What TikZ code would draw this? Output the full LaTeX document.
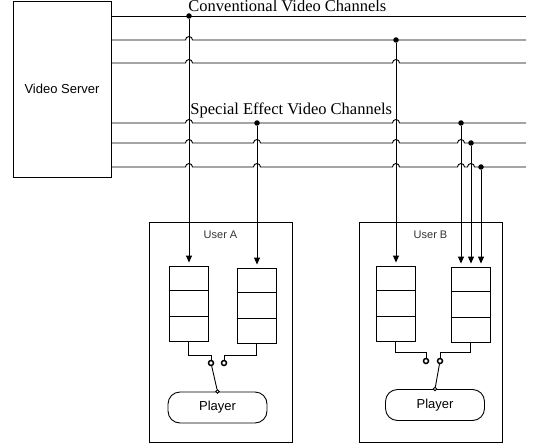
\documentclass[tikz,border=0pt]{standalone}
\usepackage{fontspec}
\setmainfont{Liberation Serif}
\newfontfamily\arialfont{Liberation Sans}
\usepackage{tikz}
\usetikzlibrary{positioning,arrows.meta,calc}
\tikzset{
server/.style={
draw,
minimum width=98pt,
minimum height=176pt,
inner sep=0pt,
font=\arialfont\fontsize{13}{15}\selectfont
},
userbox/.style={
draw,
minimum width=143pt,
minimum height=220pt,
inner sep=0pt
},
usertag/.style={
inner sep=0pt,
font=\arialfont\fontsize{11}{13}\selectfont,
text=black!80
},
buffer/.style={
draw,
minimum width=39pt,
minimum height=75pt,
inner sep=0pt
},
player/.style={
draw,
rounded corners=12pt,
minimum width=99pt,
minimum height=31pt,
inner sep=0pt,
font=\arialfont\fontsize{13}{15}\selectfont
},
terminal/.style={
circle,
draw,
fill=white,
line width=1.5pt,
minimum size=5pt,
inner sep=0pt
},
pivot/.style={
circle,
draw,
fill=white,
minimum size=3.5pt,
inner sep=0pt
},
chlabel/.style={
inner sep=0pt,
anchor=base west,
font=\fontsize{16.5}{19}\selectfont
},
tap/.style={
circle,
fill,
minimum size=5.5pt,
inner sep=0pt
},
arrow/.style={
-{Triangle[length=7pt,width=6pt]},
shorten >=3pt
}
}

\begin{document}
\begin{tikzpicture}[x=1pt,y=-1pt,line width=0.9pt]
\useasboundingbox (0,0) rectangle (534,446);
\node[server](server) at (62,89){Video Server};

% channels, with hops where they cross a feed
\draw (server.east |- 0,16) -- (526,16);
\foreach \y/\hops in {40/{189},63/{189,396},123/{189,396},143/{189,257,396,461},167/{189,257,396,461,471}}
\draw (server.east |- 0,\y) \foreach \h in \hops {-- ({\h-3.5},\y) arc[start angle=180,end angle=0,radius=3.5pt]} -- (526,\y);

\node[chlabel](convlbl) at (188,11.5){Conventional Video Channels};
\node[chlabel](speclbl) at (190,115){Special Effect Video Channels};

% users
\node[userbox](userA) at (220.5,332){};
\node[usertag,below=9pt of userA.north](tagA){User A};
\node[userbox](userB) at (430.5,332){};
\node[usertag,below=9pt of userB.north](tagB){User B};

\node[buffer](bufAl) at (188.5,303.5){};
\node[buffer](bufAr) at (256.5,305.5){};
\node[buffer](bufBl) at (395.5,303.5){};
\node[buffer](bufBr) at (470.5,304.5){};
\foreach \b in {bufAl,bufAr,bufBl,bufBr}
\draw ($(\b.north west)!1/3!(\b.south west)$) -- ($(\b.north east)!1/3!(\b.south east)$)
($(\b.north west)!2/3!(\b.south west)$) -- ($(\b.north east)!2/3!(\b.south east)$);

% feeds
\foreach \n/\x/\y/\b in {tA1/189/16/bufAl,tA2/257/123/bufAr,tB1/396/40/bufBl,tB2/461/123/bufBr,tB3/471/143/bufBr,tB4/481/167/bufBr}{
\node[tap](\n) at (\x,\y){};
\draw[arrow](\n) -- (\n |- \b.north);
}

% switches
\node[terminal](swAl) at (211,363){};
\node[terminal](swAr) at (224,363){};
\node[terminal](swBl) at (426,361){};
\node[terminal](swBr) at (440,361){};
\foreach \b/\s/\e in {bufAl/swAl/355,bufAr/swAr/355,bufBl/swBl/352,bufBr/swBr/352}
\draw (\b.south) -- (\b.south |- 0,\e) -| (\s);

\node[player](playA) at (217.5,407.5){Player};
\node[player](playB) at (435,405){Player};
\node[pivot](pvA) at (playA.north){};
\node[pivot](pvB) at (playB.north){};
\draw (pvA) -- (swAl);
\draw (pvB) -- (swBr);
\end{tikzpicture}
\end{document}
